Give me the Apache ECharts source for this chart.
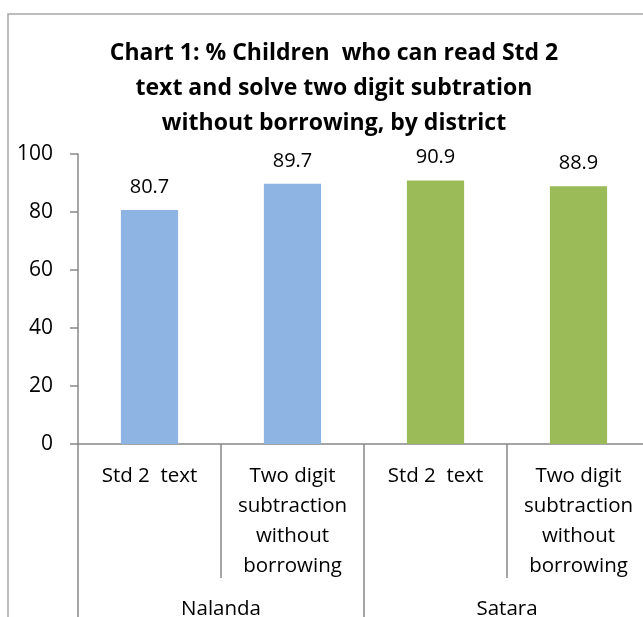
<!DOCTYPE html>
<html><head><meta charset="utf-8">
<script src="https://cdn.jsdelivr.net/npm/echarts@6/dist/echarts.min.js"></script>
<style>html,body{margin:0;padding:0;overflow:hidden;background:#fff}#c{width:680px;height:640px}</style>
</head><body><div id="c"></div>
<script>
const categories = ['Std 2  text', 'Two digit\nsubtraction\nwithout\nborrowing', 'Std 2  text', 'Two digit\nsubtraction\nwithout\nborrowing'];
const districts = ['Nalanda', 'Satara'];
const values = [80.7, 89.7, 90.9, 88.9];
const barColors = ['#8db4e2', '#8db4e2', '#9bbb59', '#9bbb59'];
const yTicks = [0, 20, 40, 60, 80, 100];

const chart = echarts.init(document.getElementById('c'));
const font = 'Open Sans';
chart.setOption({
  animation: false,
  title: {
    text: 'Chart 1: % Children  who can read Std 2\ntext and solve two digit subtration\nwithout borrowing, by district',
    left: 329, textAlign: 'center', top: 31,
    textStyle: { fontFamily: font, fontWeight: 'bold', fontSize: 23, lineHeight: 35, color: '#000' }
  },
  graphic: [{
    type: 'rect', shape: { x: 8, y: 14, width: 700, height: 700 },
    style: { fill: 'none', stroke: '#a6a6a6', lineWidth: 1.5 }, z: -1
  }],
  grid: { left: 78, top: 154, width: 572, height: 290 },
  xAxis: [{
    type: 'category', data: categories, position: 'bottom',
    axisLine: { lineStyle: { color: '#888', width: 1.5 } },
    axisTick: { show: true, interval: 0, length: 134, lineStyle: { color: '#888', width: 1.5 } },
    axisLabel: { interval: 0, margin: 17, fontFamily: font, fontSize: 20.5, lineHeight: 30, color: '#000' }
  }, {
    type: 'category', data: districts, position: 'bottom',
    axisLine: { show: false },
    axisTick: { show: true, interval: 0, length: 200, lineStyle: { color: '#888', width: 1.5 } },
    axisLabel: { interval: 0, margin: 155, fontFamily: font, fontSize: 20.5, color: '#000' }
  }],
  yAxis: {
    type: 'value', min: yTicks[0], max: yTicks[yTicks.length - 1], interval: 20,
    splitLine: { show: false },
    axisLine: { show: true, lineStyle: { color: '#888', width: 1.5 } },
    axisTick: { show: true, length: 8, lineStyle: { color: '#888', width: 1.5 } },
    axisLabel: { margin: 25, fontFamily: font, fontSize: 21, color: '#000' }
  },
  series: [{
    type: 'bar', xAxisIndex: 0, barWidth: '40%',
    data: values.map((v, i) => ({ value: v, itemStyle: { color: barColors[i] } })),
    label: { show: true, position: 'top', distance: 13, fontFamily: font, fontSize: 20, color: '#000' }
  }]
});
</script></body></html>
